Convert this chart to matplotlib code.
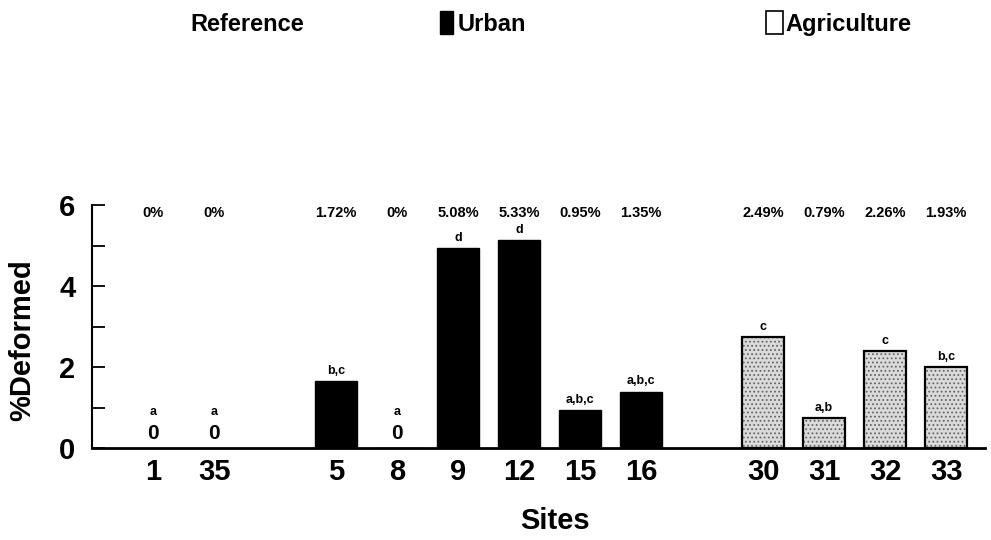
import matplotlib
matplotlib.use('Agg')
import matplotlib.pyplot as plt
from matplotlib.patches import Rectangle

plt.rcParams['font.family'] = ['Liberation Sans', 'DejaVu Sans']
plt.rcParams['font.weight'] = 'bold'
plt.rcParams['hatch.linewidth'] = 0.8

# data
ref_sites = ['1', '35']
ref_vals = [0, 0]
ref_pct = ['0%', '0%']
ref_sig = ['a', 'a']

urban_sites = ['5', '8', '9', '12', '15', '16']
urban_vals = [1.65, 0, 4.95, 5.15, 0.95, 1.4]
urban_pct = ['1.72%', '0%', '5.08%', '5.33%', '0.95%', '1.35%']
urban_sig = ['b,c', 'a', 'd', 'd', 'a,b,c', 'a,b,c']

ag_sites = ['30', '31', '32', '33']
ag_vals = [2.75, 0.75, 2.4, 2.0]
ag_pct = ['2.49%', '0.79%', '2.26%', '1.93%']
ag_sig = ['c', 'a,b', 'c', 'b,c']

groups = [(ref_sites, ref_vals, ref_pct, ref_sig),
          (urban_sites, urban_vals, urban_pct, urban_sig),
          (ag_sites, ag_vals, ag_pct, ag_sig)]

fig = plt.figure(figsize=(9.91, 5.4), dpi=100)
ax = fig.add_axes([0.093, 0.17, 0.901, 0.45])

width = 0.7
pos = 0
xs_all, labels_all = [], []
for gi, (sites, vals, pct, sig) in enumerate(groups):
    xs = list(range(pos, pos + len(sites)))
    pos += len(sites) + 1
    xs_all += xs
    labels_all += sites
    if gi == 1:
        ax.bar(xs, vals, width, color='black', edgecolor='black', linewidth=1)
    elif gi == 2:
        # stippled fill, then a black outline on top
        ax.bar(xs, vals, width, color='#dadada', edgecolor='#666666',
               hatch='....', linewidth=0)
        ax.bar(xs, vals, width, fill=False, edgecolor='black', linewidth=1.6)
    for x, v, p, s in zip(xs, vals, pct, sig):
        ax.text(x, 5.8, p, ha='center', va='center', fontsize=10.5)
        if v == 0:
            ax.text(x, 0.37, '0', ha='center', va='center', fontsize=15)
            ax.text(x, 0.9, s, ha='center', va='center', fontsize=9)
        else:
            ax.text(x, v + 0.1, s, ha='center', va='bottom', fontsize=9)

ax.set_xlim(-1, 13.64)
ax.set_ylim(0, 6)
ax.set_xticks(xs_all)
ax.set_xticklabels(labels_all)
ax.set_yticks([0, 2, 4, 6])
ax.set_yticks([1, 3, 5], minor=True)
ax.tick_params(axis='x', length=0, labelsize=21, pad=7)
ax.tick_params(axis='y', which='both', direction='in', length=9, width=1.3,
               labelsize=21, pad=12)
for s in ['top', 'right']:
    ax.spines[s].set_visible(False)
ax.spines['left'].set_linewidth(1.5)
ax.spines['bottom'].set_linewidth(2)

fig.text(0.022, 0.37, '%Deformed', rotation=90, ha='center', va='center', fontsize=21)
fig.text(0.56, 0.035, 'Sites', ha='center', va='center', fontsize=21)

# header legend
fig.text(0.192, 0.955, 'Reference', ha='left', va='center', fontsize=17)
fig.patches.append(Rectangle((0.444, 0.937), 0.013, 0.043, transform=fig.transFigure,
                             facecolor='black', edgecolor='black', figure=fig))
fig.text(0.462, 0.955, 'Urban', ha='left', va='center', fontsize=17)
fig.patches.append(Rectangle((0.773, 0.937), 0.017, 0.043, transform=fig.transFigure,
                             facecolor='white', edgecolor='black', linewidth=1.2, figure=fig))
fig.text(0.793, 0.955, 'Agriculture', ha='left', va='center', fontsize=17)

fig.savefig('out.png', dpi=100)
